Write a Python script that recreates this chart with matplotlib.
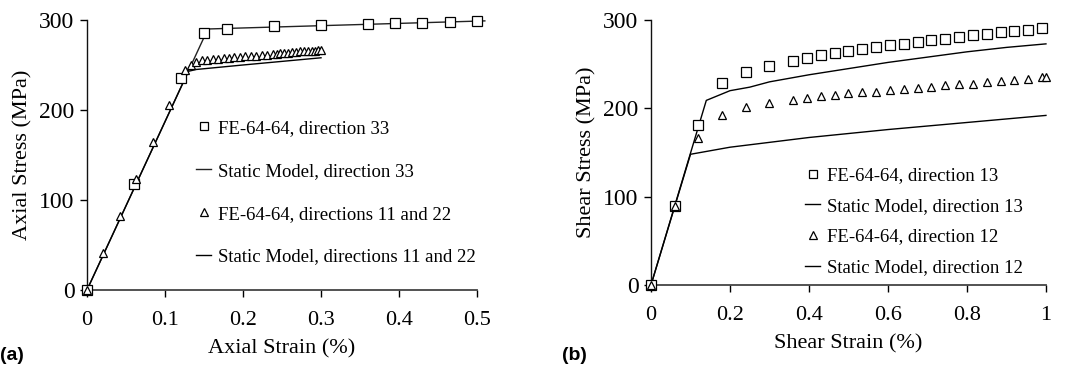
import matplotlib
matplotlib.use("Agg")
import matplotlib.pyplot as plt
from matplotlib.ticker import FuncFormatter

plt.rcParams['font.family'] = ['Liberation Serif', 'DejaVu Serif']

# ---- panel (a): axial ----
sq33_x = [0, 0.06, 0.12, 0.15, 0.18, 0.24, 0.30, 0.36, 0.395, 0.43, 0.465, 0.50]
sq33_y = [0, 118, 235, 286, 290, 293, 294, 295, 297, 297, 298, 299]

sm33_x = [0, 0.155, 0.51]
sm33_y = [0, 290, 299]

tri11_x = [0, 0.021, 0.042, 0.063, 0.084, 0.105, 0.126, 0.133, 0.140, 0.147,
           0.154, 0.161, 0.168, 0.175, 0.182, 0.189, 0.196, 0.203, 0.210, 0.217,
           0.224, 0.231, 0.238, 0.243, 0.248, 0.253, 0.258, 0.263, 0.268, 0.273,
           0.278, 0.283, 0.288, 0.292, 0.296, 0.300]
tri11_y = [0, 41, 82, 123, 164, 206, 244, 250, 253, 255,
           256, 256.5, 257, 257.5, 258, 258.5, 259, 259.5, 260, 260.5,
           261, 261.5, 262, 262.5, 263, 263, 263.5, 264, 264.5, 265,
           265, 265.5, 266, 266, 266.5, 267]

sm11_x = [0, 0.13, 0.14, 0.17, 0.20, 0.25, 0.30]
sm11_y = [0, 243, 245, 247.5, 250, 254, 258]

# ---- panel (b): shear ----
sq13_x = [0, 0.06, 0.12, 0.18, 0.24, 0.30, 0.36, 0.395, 0.43, 0.465, 0.50,
          0.535, 0.57, 0.605, 0.64, 0.675, 0.71, 0.745, 0.78, 0.815, 0.85,
          0.885, 0.92, 0.955, 0.99]
sq13_y = [0, 90, 181, 229, 241, 248, 254, 257, 260, 263, 265,
          267, 270, 272, 273, 275, 277, 279, 281, 283, 284,
          286, 288, 289, 291]

sm13_x = [0, 0.14, 0.20, 0.25, 0.30, 0.40, 0.50, 0.60, 0.70, 0.80, 0.90, 1.0]
sm13_y = [0, 209, 220, 224, 230, 238, 245, 252, 258, 264, 269, 273]

tri12_x = [0, 0.06, 0.12, 0.18, 0.24, 0.30, 0.36, 0.395, 0.43, 0.465, 0.50,
           0.535, 0.57, 0.605, 0.64, 0.675, 0.71, 0.745, 0.78, 0.815, 0.85,
           0.885, 0.92, 0.955, 0.99, 1.0]
tri12_y = [0, 90, 166, 192, 201, 206, 210, 212, 214, 215, 217,
           218, 219, 221, 222, 223, 224.5, 226, 227, 228, 230,
           231, 232, 233, 235, 235]

sm12_x = [0, 0.10, 0.20, 0.40, 0.60, 0.80, 1.0]
sm12_y = [0, 148, 156, 167, 176, 184, 192]

fig = plt.figure(figsize=(10.66, 3.66), dpi=100)
ax1 = fig.add_axes([0.0816, 0.2077, 0.3659, 0.7377])
ax2 = fig.add_axes([0.6107, 0.2213, 0.3705, 0.7240])

fmt = FuncFormatter(lambda v, p: '%g' % round(v, 3))

mk = dict(mfc='white', mec='black', mew=0.9, clip_on=False)

ax1.plot(sq33_x, sq33_y, 's', ms=6.5, label='FE-64-64, direction 33', zorder=3, **mk)
ax1.plot(sm33_x, sm33_y, '-', color='#222222', lw=1.0, clip_on=False,
         label='Static Model, direction 33')
ax1.plot(tri11_x, tri11_y, '^', ms=6, label='FE-64-64, directions 11 and 22', zorder=3, **mk)
ax1.plot(sm11_x, sm11_y, '-', color='black', lw=1.0, clip_on=False,
         label='Static Model, directions 11 and 22')

ax2.plot(sq13_x, sq13_y, 's', ms=6.5, label='FE-64-64, direction 13', zorder=3, **mk)
ax2.plot(sm13_x, sm13_y, '-', color='black', lw=1.0, clip_on=False,
         label='Static Model, direction 13')
ax2.plot(tri12_x, tri12_y, '^', ms=6, label='FE-64-64, direction 12', zorder=3, **mk)
ax2.plot(sm12_x, sm12_y, '-', color='black', lw=1.0, clip_on=False,
         label='Static Model, direction 12')

ax1.set_xlim(0, 0.5)
ax1.set_xticks([0, 0.1, 0.2, 0.3, 0.4, 0.5])
ax2.set_xlim(0, 1)
ax2.set_xticks([0, 0.2, 0.4, 0.6, 0.8, 1.0])

for ax in (ax1, ax2):
    ax.set_ylim(0, 300)
    ax.set_yticks([0, 100, 200, 300])
    ax.xaxis.set_major_formatter(fmt)
    ax.spines['top'].set_visible(False)
    ax.spines['right'].set_visible(False)
    ax.spines['left'].set_color('#111111')
    ax.spines['bottom'].set_color('#444444')
    ax.spines['left'].set_linewidth(1.0)
    ax.spines['bottom'].set_linewidth(1.3)
    ax.tick_params(axis='both', direction='out', length=5, width=1.0)
    ax.tick_params(axis='x', pad=10, labelsize=16)
    ax.tick_params(axis='y', pad=4, labelsize=17)

ax1.set_xlabel('Axial Strain (%)', fontsize=16, labelpad=7)
ax1.set_ylabel('Axial Stress (MPa)', fontsize=16, labelpad=5)
ax2.set_xlabel('Shear Strain (%)', fontsize=16, labelpad=7)
ax2.set_ylabel('Shear Stress (MPa)', fontsize=16, labelpad=5)

ax1.legend(loc='upper left', bbox_to_anchor=(0.28, 0.63), frameon=False,
           fontsize=13.5, handlelength=0.8, handletextpad=0.35,
           labelspacing=1.37, borderpad=0, borderaxespad=0, markerscale=0.85)
ax2.legend(loc='upper left', bbox_to_anchor=(0.39, 0.445), frameon=False,
           fontsize=13.5, handlelength=0.8, handletextpad=0.35,
           labelspacing=0.72, borderpad=0, borderaxespad=0, markerscale=0.85)

fig.text(0.0, 0.03, '(a)', fontsize=14, fontweight='bold',
         family=['Liberation Sans', 'DejaVu Sans'], va='center', ha='left')
fig.text(0.527, 0.03, '(b)', fontsize=14, fontweight='bold',
         family=['Liberation Sans', 'DejaVu Sans'], va='center', ha='left')

fig.savefig('out.png', dpi=100)
